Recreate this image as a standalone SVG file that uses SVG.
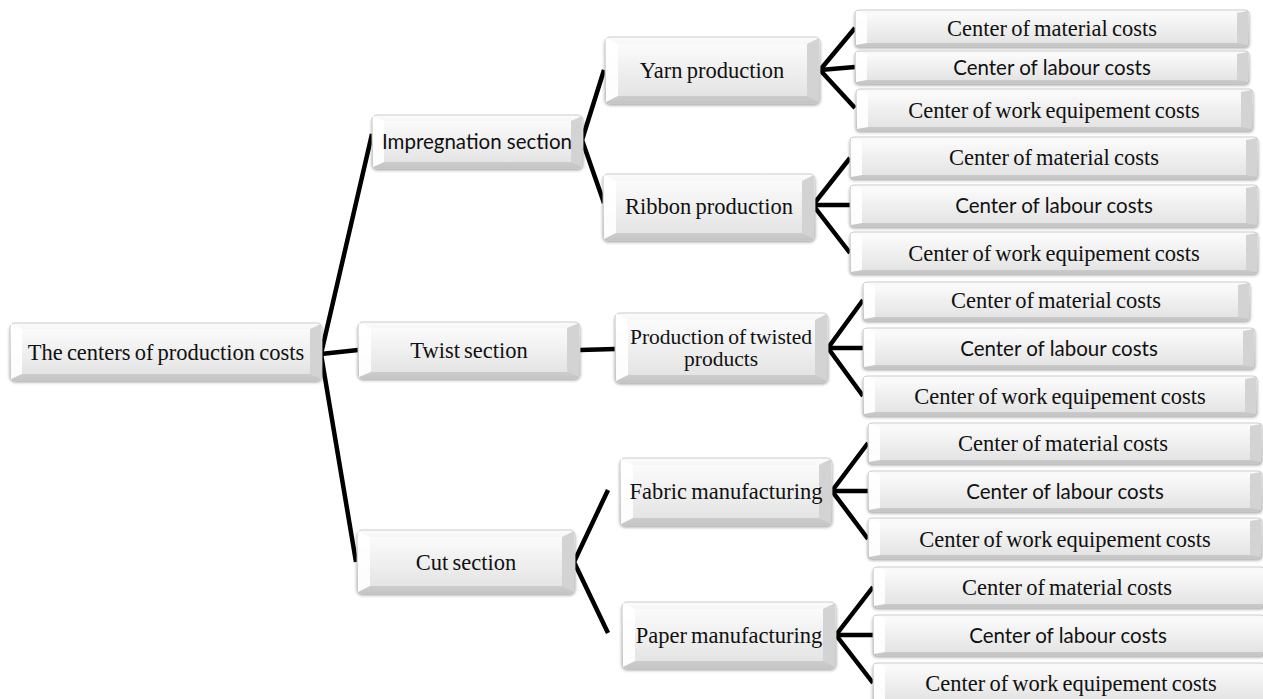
<svg xmlns="http://www.w3.org/2000/svg" width="1263" height="699" viewBox="0 0 1263 699">
<defs>
<linearGradient id="base" x1="0" y1="0" x2="0" y2="1">
<stop offset="0" stop-color="#fcfcfc"/><stop offset="1" stop-color="#c6c6c6"/>
</linearGradient>
<linearGradient id="face" x1="0" y1="0" x2="0" y2="1">
<stop offset="0" stop-color="#fbfbfb"/><stop offset="1" stop-color="#e4e4e4"/>
</linearGradient>
<filter id="sh" x="-5%" y="-20%" width="110%" height="150%">
<feDropShadow dx="0" dy="2" stdDeviation="1.6" flood-color="#000" flood-opacity="0.35"/>
</filter>
</defs>
<style>
.b{fill:url(#base);stroke:#c2c2c2;stroke-width:0.8;filter:url(#sh)}
.f{fill:url(#face)}
.l{fill:#ffffff;opacity:0.95}
.r{fill:#d3d3d3}
.s{font-family:"Liberation Serif","Times New Roman",serif;font-size:22.5px;word-spacing:-1.5px;fill:#111;text-anchor:middle;dominant-baseline:central}
.t{font-size:21.5px}
.a{font-family:Lato,"Liberation Sans",sans-serif;font-size:20.5px;fill:#111;text-anchor:middle;dominant-baseline:central}
.c{stroke:#000;stroke-width:4.5;fill:none;stroke-linejoin:miter}
</style>

<g id="connectors">
<polyline class="c" points="372,134 321,354 356,562"/>
<line class="c" x1="321" y1="354" x2="358" y2="350"/>
<polyline class="c" points="604,70 582,140 604,203"/>
<line class="c" x1="580" y1="350" x2="615" y2="349"/>
<polyline class="c" points="608,490 574,562 608,633"/>
<polyline class="c" points="855,28 820,70 855,108"/>
<line class="c" x1="820" y1="70" x2="855" y2="67"/>
<polyline class="c" points="850,158 813,205 850,253"/>
<line class="c" x1="813" y1="205" x2="850" y2="205"/>
<polyline class="c" points="863,300 828,348 863,396"/>
<line class="c" x1="828" y1="348" x2="863" y2="348"/>
<polyline class="c" points="868,443 832,491 868,539"/>
<line class="c" x1="832" y1="491" x2="868" y2="491"/>
<polyline class="c" points="873,587 836,635 873,683"/>
<line class="c" x1="836" y1="635" x2="873" y2="635"/>
</g>

<g id="root">
<rect class="b" x="10" y="323" width="312" height="57" rx="5"/>
<rect class="f" x="22" y="329" width="288" height="45"/>
<polygon class="l" points="11,324 22,329 22,374 11,379"/>
<polygon class="r" points="321,324 310,329 310,374 321,379"/>
<text class="s" x="166" y="352">The centers of production costs</text>
</g>

<g id="impregnation">
<rect class="b" x="372" y="115" width="211" height="53" rx="5"/>
<rect class="f" x="384" y="121" width="187" height="41"/>
<polygon class="l" points="373,116 384,121 384,162 373,167"/>
<polygon class="r" points="582,116 571,121 571,162 582,167"/>
<text class="a" x="477" y="141">Impregnation section</text>
</g>

<g id="twist">
<rect class="b" x="358" y="322" width="222" height="56" rx="5"/>
<rect class="f" x="371" y="328" width="196" height="44"/>
<polygon class="l" points="359,323 371,328 371,372 359,377"/>
<polygon class="r" points="579,323 567,328 567,372 579,377"/>
<text class="s" x="469" y="350">Twist section</text>
</g>

<g id="cut">
<rect class="b" x="357" y="530" width="218" height="63" rx="5"/>
<rect class="f" x="370" y="537" width="192" height="49"/>
<polygon class="l" points="358,531 370,537 370,586 358,592"/>
<polygon class="r" points="574,531 562,537 562,586 574,592"/>
<text class="s" x="466" y="562">Cut section</text>
</g>

<g id="yarn">
<rect class="b" x="605" y="37" width="215" height="66" rx="5"/>
<rect class="f" x="618" y="44" width="189" height="52"/>
<polygon class="l" points="606,38 618,44 618,96 606,102"/>
<polygon class="r" points="819,38 807,44 807,96 819,102"/>
<text class="s" x="712" y="70">Yarn production</text>
</g>

<g id="ribbon">
<rect class="b" x="603" y="174" width="212" height="66" rx="5"/>
<rect class="f" x="616" y="181" width="186" height="52"/>
<polygon class="l" points="604,175 616,181 616,233 604,239"/>
<polygon class="r" points="814,175 802,181 802,233 814,239"/>
<text class="s" x="709" y="206">Ribbon production</text>
</g>

<g id="twisted-products">
<rect class="b" x="615" y="313" width="213" height="69" rx="5"/>
<rect class="f" x="628" y="320" width="187" height="55"/>
<polygon class="l" points="616,314 628,320 628,375 616,381"/>
<polygon class="r" points="827,314 815,320 815,375 827,381"/>
<text class="s t" x="721" y="337">Production of twisted</text>
<text class="s t" x="721" y="359">products</text>
</g>

<g id="fabric">
<rect class="b" x="620" y="458" width="212" height="67" rx="5"/>
<rect class="f" x="633" y="465" width="186" height="53"/>
<polygon class="l" points="621,459 633,465 633,518 621,524"/>
<polygon class="r" points="831,459 819,465 819,518 831,524"/>
<text class="s" x="726" y="491">Fabric manufacturing</text>
</g>

<g id="paper">
<rect class="b" x="622" y="602" width="214" height="66" rx="5"/>
<rect class="f" x="635" y="609" width="188" height="52"/>
<polygon class="l" points="623,603 635,609 635,661 623,667"/>
<polygon class="r" points="835,603 823,609 823,661 835,667"/>
<text class="s" x="729" y="635">Paper manufacturing</text>
</g>

<g id="g1-material">
<rect class="b" x="855" y="10" width="394" height="36" rx="4"/>
<rect class="f" x="867" y="13" width="370" height="30"/>
<polygon class="l" points="856,11 867,13 867,43 856,45"/>
<polygon class="r" points="1248,11 1237,13 1237,43 1248,45"/>
<text class="s" x="1052" y="28">Center of material costs</text>
</g>
<g id="g1-labour">
<rect class="b" x="855" y="51" width="394" height="32" rx="4"/>
<rect class="f" x="867" y="54" width="370" height="26"/>
<polygon class="l" points="856,52 867,54 867,80 856,82"/>
<polygon class="r" points="1248,52 1237,54 1237,80 1248,82"/>
<text class="a" x="1052" y="67">Center of labour costs</text>
</g>
<g id="g1-equipment">
<rect class="b" x="856" y="89" width="397" height="41" rx="4"/>
<rect class="f" x="868" y="92" width="373" height="35"/>
<polygon class="l" points="857,90 868,92 868,127 857,129"/>
<polygon class="r" points="1252,90 1241,92 1241,127 1252,129"/>
<text class="s" x="1054" y="110">Center of work equipement costs</text>
</g>

<g id="g2-material">
<rect class="b" x="850" y="137" width="408" height="41" rx="4"/>
<rect class="f" x="862" y="140" width="384" height="35"/>
<polygon class="l" points="851,138 862,140 862,175 851,177"/>
<polygon class="r" points="1257,138 1246,140 1246,175 1257,177"/>
<text class="s" x="1054" y="157">Center of material costs</text>
</g>
<g id="g2-labour">
<rect class="b" x="850" y="185" width="408" height="41" rx="4"/>
<rect class="f" x="862" y="188" width="384" height="35"/>
<polygon class="l" points="851,186 862,188 862,223 851,225"/>
<polygon class="r" points="1257,186 1246,188 1246,223 1257,225"/>
<text class="a" x="1054" y="205">Center of labour costs</text>
</g>
<g id="g2-equipment">
<rect class="b" x="850" y="232" width="408" height="41" rx="4"/>
<rect class="f" x="862" y="235" width="384" height="35"/>
<polygon class="l" points="851,233 862,235 862,270 851,272"/>
<polygon class="r" points="1257,233 1246,235 1246,270 1257,272"/>
<text class="s" x="1054" y="253">Center of work equipement costs</text>
</g>

<g id="g3-material">
<rect class="b" x="863" y="282" width="387" height="38" rx="4"/>
<rect class="f" x="875" y="285" width="363" height="32"/>
<polygon class="l" points="864,283 875,285 875,317 864,319"/>
<polygon class="r" points="1249,283 1238,285 1238,317 1249,319"/>
<text class="s" x="1056" y="300">Center of material costs</text>
</g>
<g id="g3-labour">
<rect class="b" x="863" y="328" width="392" height="40" rx="4"/>
<rect class="f" x="875" y="331" width="368" height="34"/>
<polygon class="l" points="864,329 875,331 875,365 864,367"/>
<polygon class="r" points="1254,329 1243,331 1243,365 1254,367"/>
<text class="a" x="1059" y="348">Center of labour costs</text>
</g>
<g id="g3-equipment">
<rect class="b" x="863" y="376" width="394" height="39" rx="4"/>
<rect class="f" x="875" y="379" width="370" height="33"/>
<polygon class="l" points="864,377 875,379 875,412 864,414"/>
<polygon class="r" points="1256,377 1245,379 1245,412 1256,414"/>
<text class="s" x="1060" y="396">Center of work equipement costs</text>
</g>

<g id="g4-material">
<rect class="b" x="868" y="423" width="394" height="40" rx="4"/>
<rect class="f" x="880" y="426" width="370" height="34"/>
<polygon class="l" points="869,424 880,426 880,460 869,462"/>
<polygon class="r" points="1261,424 1250,426 1250,460 1261,462"/>
<text class="s" x="1063" y="443">Center of material costs</text>
</g>
<g id="g4-labour">
<rect class="b" x="868" y="471" width="394" height="40" rx="4"/>
<rect class="f" x="880" y="474" width="370" height="34"/>
<polygon class="l" points="869,472 880,474 880,508 869,510"/>
<polygon class="r" points="1261,472 1250,474 1250,508 1261,510"/>
<text class="a" x="1065" y="491">Center of labour costs</text>
</g>
<g id="g4-equipment">
<rect class="b" x="868" y="518" width="394" height="40" rx="4"/>
<rect class="f" x="880" y="521" width="370" height="34"/>
<polygon class="l" points="869,519 880,521 880,555 869,557"/>
<polygon class="r" points="1261,519 1250,521 1250,555 1261,557"/>
<text class="s" x="1065" y="539">Center of work equipement costs</text>
</g>

<g id="g5-material">
<rect class="b" x="873" y="567" width="392" height="40" rx="4"/>
<rect class="f" x="885" y="570" width="380" height="34"/>
<polygon class="l" points="874,568 885,570 885,604 874,606"/>
<text class="s" x="1067" y="587">Center of material costs</text>
</g>
<g id="g5-labour">
<rect class="b" x="873" y="615" width="392" height="40" rx="4"/>
<rect class="f" x="885" y="618" width="380" height="34"/>
<polygon class="l" points="874,616 885,618 885,652 874,654"/>
<text class="a" x="1068" y="635">Center of labour costs</text>
</g>
<g id="g5-equipment">
<rect class="b" x="873" y="663" width="392" height="40" rx="4"/>
<rect class="f" x="885" y="666" width="380" height="34"/>
<polygon class="l" points="874,664 885,666 885,700 874,702"/>
<text class="s" x="1071" y="683">Center of work equipement costs</text>
</g>
</svg>
